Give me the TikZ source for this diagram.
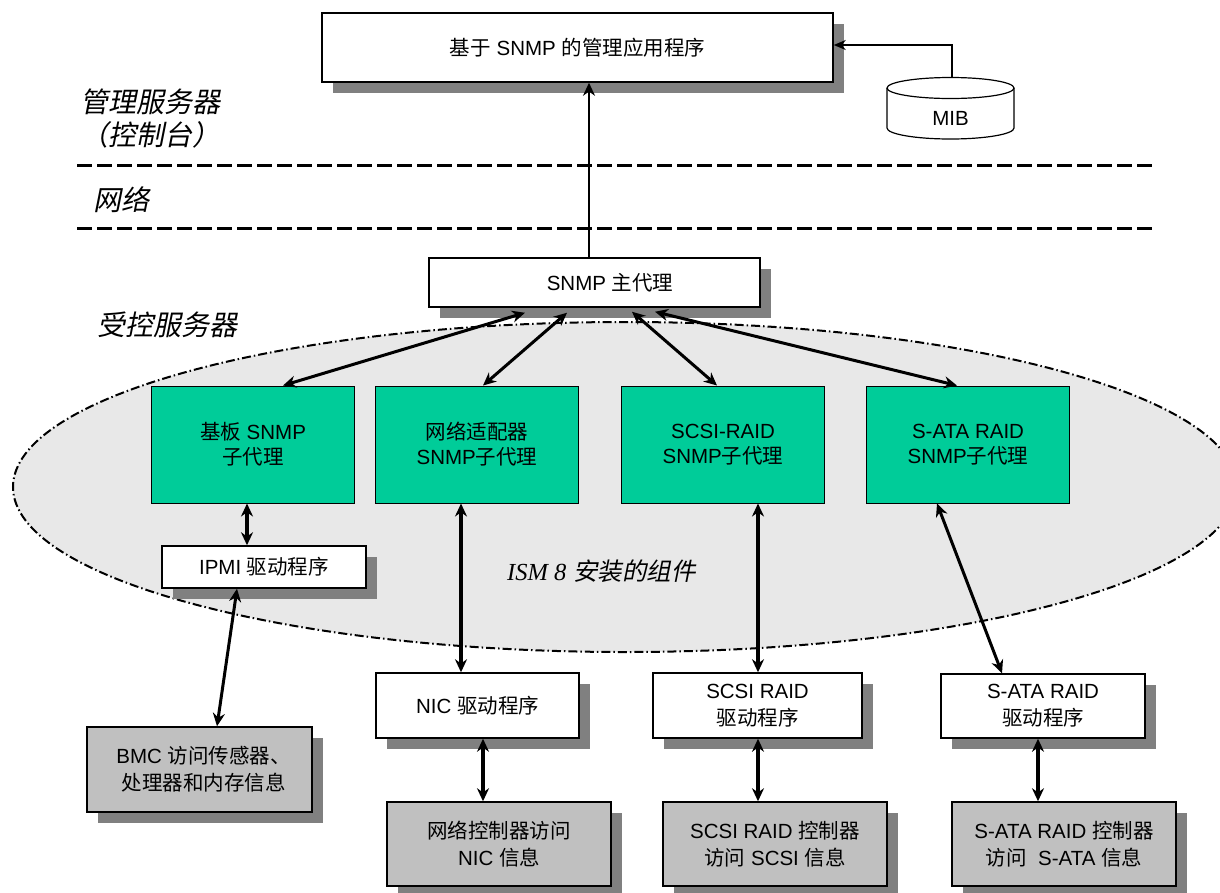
\documentclass[tikz,border=0pt]{standalone}
\usepackage{fontspec}
\setmainfont{Liberation Sans}
\newfontfamily\cjk{Noto Sans CJK SC}
\newfontfamily\cjkit{Noto Sans CJK SC}[FakeSlant=0.2]
\newfontfamily\tms{Liberation Serif}
\usetikzlibrary{arrows.meta,shadows,calc}
\definecolor{shgray}{HTML}{808080}
\definecolor{agentgreen}{HTML}{00CC99}
\definecolor{ctrlgray}{HTML}{C0C0C0}
\definecolor{zonegray}{HTML}{E8E8E8}
\newcommand{\zh}[1]{{\cjk #1}}
\begin{document}
\begin{tikzpicture}[x=1pt,y=-1pt,
  shadowed/.style={drop shadow={shadow xshift=10.5pt,shadow yshift=-10.5pt,fill=shgray,opacity=1}},
  wbox/.style={draw=black,line width=1.5pt,fill=white,shadowed,align=center,inner sep=0pt,
    font=\fontsize{20.5}{27}\selectfont},
  cbox/.style={wbox,fill=ctrlgray},
  gbox/.style={draw=black,line width=1pt,fill=agentgreen,align=center,inner sep=0pt,
    minimum width=203pt,minimum height=117pt,font=\fontsize{20.5}{25}\selectfont},
  lbl/.style={anchor=west,inner sep=0pt,align=left,font=\fontsize{28}{33}\selectfont\cjkit},
  sepline/.style={line width=3pt,dash pattern=on 15pt off 5pt},
  zone/.style={line width=2pt,fill=zonegray,dash pattern=on 9pt off 3pt on 1.5pt off 3pt},
  tip/.style={},
  arr/.style={line width=2.8pt,-{Stealth[length=13pt,width=12pt]}},
  darr/.style={line width=3pt,{Stealth[length=13pt,width=12pt]}-{Stealth[length=13pt,width=12pt]}},
  vdarr/.style={line width=3.4pt,{Stealth[length=13pt,width=12pt]}-{Stealth[length=13pt,width=12pt]}},
]
\useasboundingbox (0,0) rectangle (1220,892);

% managed-server zone
\draw[zone] (625,487) ellipse[x radius=612,y radius=165];

% separator lines
\draw[sepline] (77,165) -- (1154,165);
\draw[sepline] (77,228) -- (1154,228);

% left labels
\node[lbl] (mgr) at (80,118.5) {管理服务器\\（控制台）};
\node[lbl] (net) at (93,200) {网络};
\node[lbl] (managed) at (97,325) {受控服务器};

% top application box
\node[wbox,minimum width=511pt,minimum height=69pt] (app) at (577.5,47.5) {\zh{基于} SNMP \zh{的管理应用程序}};

% MIB cylinder
\draw[line width=1.2pt,fill=white] (887,88) -- (887,128) arc[start angle=180,end angle=0,x radius=63.5,y radius=11] -- (1014,88);
\draw[line width=1.2pt,fill=white] (950.5,88) ellipse[x radius=63.5,y radius=10.5];
\node[font=\fontsize{20.5}{24}\selectfont,inner sep=0pt] (mib) at (950.5,118) {MIB};
\coordinate (mibtop) at (952,77.5);
\draw[line width=1.8pt,-{Stealth[length=12pt,width=10pt]}] (mibtop) |- ([yshift=2.5pt]app.east);

% master agent
\node[wbox,minimum width=331pt,minimum height=49pt] (main) at (594.5,282.5) {\hspace*{31pt}SNMP \zh{主代理}};
\draw[arr] ([xshift=-5.5pt]main.north) -- ([xshift=-5.5pt]main.north |- app.south);

% sub-agents
\node[gbox] (g1) at (253,444.5) {\zh{基板} SNMP\\\zh{子代理}};
\node[gbox] (g2) at (477,444.5) {\zh{网络适配器}\\SNMP\zh{子代理}};
\node[gbox] (g3) at (723,444.5) {SCSI-RAID\\SNMP\zh{子代理}};
\node[gbox] (g4) at (968,444.5) {S-ATA RAID\\SNMP\zh{子代理}};

\draw[darr] ([xshift=-69.5pt,yshift=-5pt]main.south) -- ([xshift=30pt]g1.north);
\draw[darr] ([xshift=-27.5pt,yshift=-5pt]main.south) -- ([xshift=6pt]g2.north);
\draw[darr] ([xshift=37.5pt,yshift=-4pt]main.south) -- ([xshift=-6pt]g3.north);
\draw[darr] ([xshift=60.5pt,yshift=-4pt]main.south) -- ([xshift=-11pt]g4.north);

% drivers
\node[wbox,minimum width=204pt,minimum height=42pt] (ipmi) at (264,567) {IPMI \zh{驱动程序}};
\node[wbox,minimum width=203pt,minimum height=65pt] (nicd) at (477.5,705.5) {NIC \zh{驱动程序}};
\node[wbox,minimum width=209pt,minimum height=65pt] (scsid) at (757.5,705.5) {SCSI RAID\\\zh{驱动程序}};
\node[wbox,minimum width=204pt,minimum height=64pt] (satad) at (1043,706) {S-ATA RAID\\\zh{驱动程序}};

% controllers
\node[cbox,minimum width=225pt,minimum height=85pt] (bmc) at (199.5,769.5) {\hspace*{8pt}BMC \zh{访问传感器、}\\\hspace*{8pt}\zh{处理器和内存信息}};
\node[cbox,minimum width=224pt,minimum height=84pt] (netc) at (499,844) {\zh{网络控制器访问}\\NIC \zh{信息}};
\node[cbox,minimum width=224pt,minimum height=84pt] (scsic) at (775,844) {SCSI RAID \zh{控制器}\\\zh{访问} SCSI \zh{信息}};
\node[cbox,minimum width=224pt,minimum height=84pt] (satac) at (1064,844) {S-ATA RAID \zh{控制器}\\\zh{访问}\ \ S-ATA \zh{信息}};

% zone caption
\node[anchor=west,inner sep=0pt,font=\fontsize{24.5}{28}\selectfont] (ism) at (507,571) {{\tms\itshape ISM 8} {\cjkit 安装的组件}};

% vertical / diagonal links
\draw[vdarr] ([xshift=-6pt]g1.south) -- ([xshift=-6pt]g1.south |- ipmi.north);
\draw[darr] ([xshift=-27pt]ipmi.south) -- ([xshift=17.5pt]bmc.north);
\draw[vdarr] ([xshift=-16pt]g2.south) -- ([xshift=-16pt]g2.south |- nicd.north);
\draw[vdarr] ([xshift=5.5pt]nicd.south) -- ([xshift=5.5pt]nicd.south |- netc.north);
\draw[vdarr] ([xshift=35pt]g3.south) -- ([xshift=35pt]g3.south |- scsid.north);
\draw[vdarr] ([xshift=0.5pt]scsid.south) -- ([xshift=0.5pt]scsid.south |- scsic.north);
\draw[darr] ([xshift=-31pt]g4.south) -- ([xshift=-41pt]satad.north);
\draw[vdarr] ([xshift=-5pt]satad.south) -- ([xshift=-5pt]satad.south |- satac.north);
\end{tikzpicture}
\end{document}
